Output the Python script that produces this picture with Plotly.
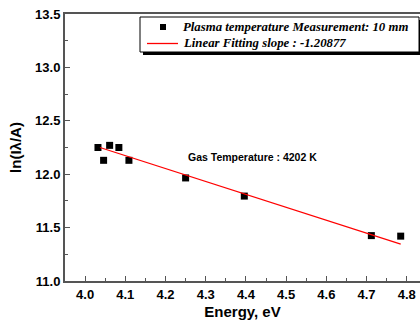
import plotly.graph_objects as go

energy = [4.032, 4.046, 4.061, 4.084, 4.109, 4.250, 4.396, 4.712, 4.785]
ln_val = [12.25, 12.13, 12.27, 12.25, 12.13, 11.965, 11.795, 11.425, 11.42]
fit_x = [4.037, 4.785]
fit_y = [12.25, 11.346]
legend_labels = ["Plasma temperature Measurement: 10 mm", "Linear Fitting slope : -1.20877"]

W, H = 420, 325
L, R, T, B = 65, 0, 14, 44
pw, ph = W - L - R, H - T - B

def px(x):  # screen x -> paper
    return (x - L) / pw

def py(y):  # screen y -> paper
    return (H - B - y) / ph

fig = go.Figure()
fig.add_trace(go.Scatter(x=energy, y=ln_val, mode="markers",
                         marker=dict(symbol="square", size=7, color="black"),
                         name=legend_labels[0], showlegend=False))
fig.add_trace(go.Scatter(x=fit_x, y=fit_y, mode="lines",
                         line=dict(color="red", width=1.3),
                         name=legend_labels[1], showlegend=False))

axis_font = dict(family="Liberation Sans", size=13, color="black", weight="bold")
leg_font = dict(family="Liberation Serif", size=12.8, color="black", weight="bold", style="italic")

shapes = [
    dict(type="rect", xref="paper", yref="paper", x0=px(143), x1=px(423), y0=py(55), y1=py(20),
         fillcolor="black", line=dict(width=0), layer="above"),
    dict(type="rect", xref="paper", yref="paper", x0=px(140), x1=px(419), y0=py(52), y1=py(17),
         fillcolor="white", line=dict(color="black", width=1), layer="above"),
    dict(type="rect", xref="paper", yref="paper", x0=px(160), x1=px(166), y0=py(30), y1=py(24),
         fillcolor="black", line=dict(width=0), layer="above"),
    dict(type="line", xref="paper", yref="paper", x0=px(147), x1=px(178), y0=py(43.5), y1=py(43.5),
         line=dict(color="red", width=1.3), layer="above"),
]

annotations = [
    dict(text="Gas Temperature : 4202 K", xref="paper", yref="paper",
         x=px(186), y=py(157), xanchor="left", yanchor="middle", showarrow=False,
         font=dict(family="Liberation Sans", size=10.5, color="black", weight="bold")),
    dict(text=legend_labels[0], xref="paper", yref="paper", x=px(181), y=py(27),
         xanchor="left", yanchor="middle", showarrow=False, font=leg_font),
    dict(text=legend_labels[1], xref="paper", yref="paper", x=px(181), y=py(43),
         xanchor="left", yanchor="middle", showarrow=False, font=leg_font),
]

fig.update_layout(
    width=W, height=H,
    margin=dict(l=L, r=R, t=T, b=B, autoexpand=False),
    paper_bgcolor="white", plot_bgcolor="white",
    showlegend=False,
    xaxis=dict(range=[3.95, 4.833], dtick=0.1, tick0=4.0, tickformat=".1f", automargin=False,
               ticklabeloverflow="allow",
               showgrid=False, zeroline=False, showline=True, linecolor="#555",
               linewidth=2, mirror=True, ticks="inside", ticklen=5, tickwidth=1.2,
               tickcolor="#555",
               minor=dict(dtick=0.05, ticks="inside", ticklen=3, tickcolor="#555", tickwidth=1),
               tickfont=axis_font,
               title=dict(text="Energy, eV", font=dict(family="Liberation Sans", size=15,
                                                         color="black", weight="bold"),
                          standoff=6)),
    yaxis=dict(range=[11.0, 13.5], dtick=0.5, tickformat=".1f", automargin=False,
               ticklabeloverflow="allow",
               showgrid=False, zeroline=False, showline=True, linecolor="#555",
               linewidth=2, ticks="inside", ticklen=5, tickwidth=1.2, tickcolor="#555",
               minor=dict(dtick=0.25, ticks="inside", ticklen=3, tickcolor="#555", tickwidth=1),
               tickfont=axis_font,
               title=dict(text="ln(Iλ/A)", font=dict(family="Liberation Sans", size=15,
                                                       color="black", weight="bold"),
                          standoff=10)),
    shapes=shapes,
    annotations=annotations,
)

fig.write_html("out.html", config={"displayModeBar": False},
               post_script="document.body.style.margin='0';document.body.style.overflow='hidden';")
